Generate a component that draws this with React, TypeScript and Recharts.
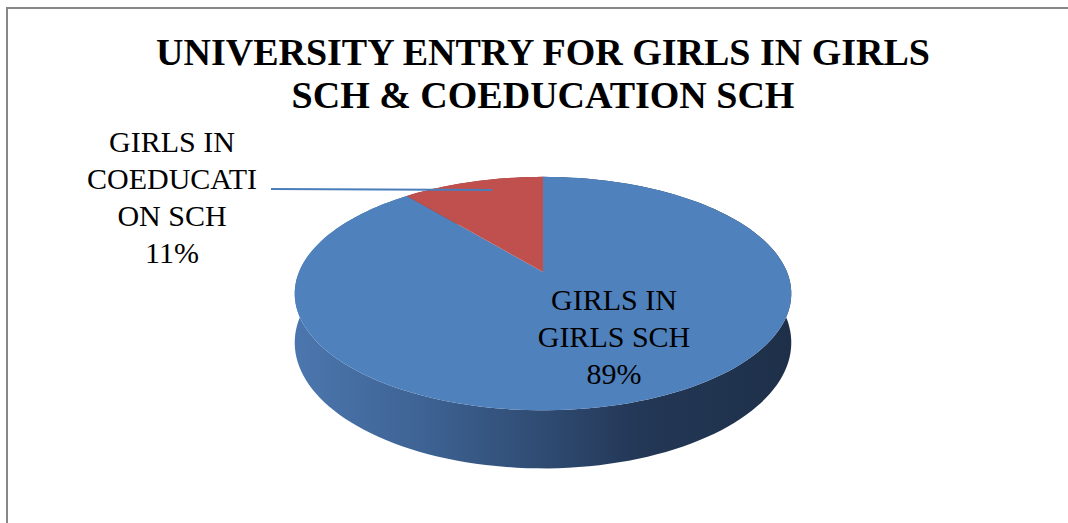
import { PieChart, Pie, Cell } from "recharts";

const names = ["GIRLS IN GIRLS SCH", "GIRLS IN COEDUCATION SCH"];
const values = [89, 11];
const labelLines = [
  ["GIRLS IN", "GIRLS SCH"],
  ["GIRLS IN", "COEDUCATI", "ON SCH"],
];
const topColors = ["#4F81BD", "#C0504D"];
const sideColors = ["url(#sideBlue)", "#8C3A38"];

const data = names.map((name, i) => ({ name, value: values[i] }));

// perspective tilt of the 3D pie
const K = 0.185;
const SQUASH = 0.462;
const DEPTH = 0.194;
const FONT = "Liberation Serif";

function project(cx: number, cy: number, r: number, u: number, v: number, h: number) {
  const w = 1 + K * v;
  return [cx + (r * u) / w, cy + (-r * SQUASH * v + r * DEPTH * h) / w];
}

function arcPoints(cx: number, cy: number, r: number, a0: number, a1: number, h: number) {
  const n = Math.max(8, Math.ceil(Math.abs(a1 - a0) / 2));
  const pts: number[][] = [];
  for (let i = 0; i <= n; i++) {
    const a = ((a0 + ((a1 - a0) * i) / n) * Math.PI) / 180;
    pts.push(project(cx, cy, r, Math.cos(a), Math.sin(a), h));
  }
  return pts;
}

const toPath = (pts: number[][]) =>
  pts.map((p, i) => `${i ? "L" : "M"}${p[0].toFixed(2)},${p[1].toFixed(2)}`).join("") + "Z";

function TopFace(props: any) {
  const { cx, cy, outerRadius, startAngle, endAngle, fill } = props;
  const pts = [[cx, cy], ...arcPoints(cx, cy, outerRadius, startAngle, endAngle, 0)];
  return <path d={toPath(pts)} fill={fill} stroke="none" />;
}

function SideFace(props: any) {
  const { cx, cy, outerRadius, startAngle, endAngle, fill } = props;
  const top = arcPoints(cx, cy, outerRadius, startAngle, endAngle, 0);
  const bottom = arcPoints(cx, cy, outerRadius, startAngle, endAngle, 1).reverse();
  return (
    <g>
      <defs>
        <linearGradient
          id="sideBlue"
          gradientUnits="userSpaceOnUse"
          x1={cx - outerRadius}
          x2={cx + outerRadius}
          y1={0}
          y2={0}
        >
          <stop offset="0%" stopColor="#4B76AD" />
          <stop offset="25%" stopColor="#3E6394" />
          <stop offset="50%" stopColor="#2F4B72" />
          <stop offset="70%" stopColor="#233756" />
          <stop offset="100%" stopColor="#1E3049" />
        </linearGradient>
      </defs>
      <path d={toPath([...top, ...bottom])} fill={fill} stroke="none" />
    </g>
  );
}

function renderLabel(props: any) {
  const { cx, cy, index, percent } = props;
  const lines = [...labelLines[index], `${Math.round(percent * 100)}%`];
  if (index === 0) {
    return (
      <text x={cx + 71} y={cy + 38} textAnchor="middle" className="serif" fontSize={30} fill="#000">
        {lines.map((t, i) => (
          <tspan key={i} x={cx + 71} dy={i ? 37 : 0}>
            {t}
          </tspan>
        ))}
      </text>
    );
  }
  return (
    <g>
      <line x1={cx - 272} y1={cy - 83} x2={cx - 51} y2={cy - 82} stroke="#4A7EBB" strokeWidth={2} />
      <text x={cx - 371} y={cy - 120} textAnchor="middle" className="serif" fontSize={30} fill="#000">
        {lines.map((t, i) => (
          <tspan key={i} x={cx - 371} dy={i ? 37 : 0}>
            {t}
          </tspan>
        ))}
      </text>
    </g>
  );
}

export default function App() {
  return (
    <div
      style={{
        position: "absolute",
        left: 0,
        top: 0,
        width: 1068,
        height: 523,
        background: "#fff",
        overflow: "hidden",
      }}
    >
      <style>{`#root .serif, #root .serif tspan { font-family: "${FONT}" !important; }`}</style>
      <div
        style={{
          position: "absolute",
          left: 6,
          top: 7,
          width: 1200,
          height: 600,
          borderLeft: "2px solid #878787",
          borderTop: "2px solid #878787",
        }}
      />
      <div
        className="serif"
        style={{
          position: "absolute",
          left: 9,
          top: 31,
          width: 1068,
          textAlign: "center",
          fontWeight: 700,
          fontSize: 38,
          lineHeight: "43px",
          color: "#000",
        }}
      >
        UNIVERSITY ENTRY FOR GIRLS IN GIRLS
        <br />
        SCH &amp; COEDUCATION SCH
      </div>
      <div style={{ position: "absolute", left: 0, top: 0 }}>
        <PieChart width={1068} height={523} margin={{ top: 0, right: 0, bottom: 0, left: 0 }}>
          <Pie
            data={data}
            dataKey="value"
            nameKey="name"
            cx={543}
            cy={272}
            outerRadius={244}
            startAngle={90}
            endAngle={-270}
            stroke="none"
            isAnimationActive={false}
            shape={SideFace}
            inactiveShape={SideFace}
            activeShape={SideFace}
          >
            {data.map((_, i) => (
              <Cell key={i} fill={sideColors[i]} />
            ))}
          </Pie>
          <Pie
            data={data}
            dataKey="value"
            nameKey="name"
            cx={543}
            cy={272}
            outerRadius={244}
            startAngle={90}
            endAngle={-270}
            stroke="none"
            isAnimationActive={false}
            shape={TopFace}
            inactiveShape={TopFace}
            activeShape={TopFace}
            label={renderLabel}
            labelLine={false}
          >
            {data.map((_, i) => (
              <Cell key={i} fill={topColors[i]} />
            ))}
          </Pie>
        </PieChart>
      </div>
    </div>
  );
}
